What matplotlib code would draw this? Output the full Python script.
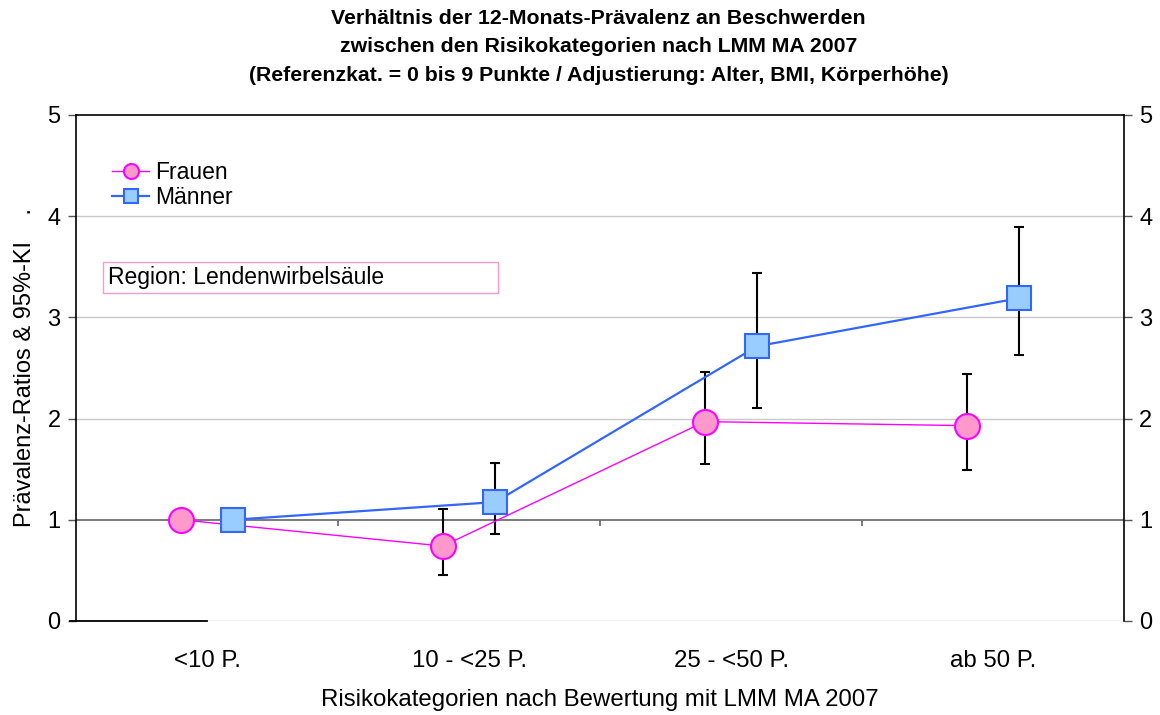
import numpy as np
import matplotlib
matplotlib.use('Agg')
import matplotlib.pyplot as plt
from matplotlib.patches import Rectangle

plt.rcParams['font.family'] = ['Liberation Sans', 'DejaVu Sans']

# data
categories = ['<10 P.', '10 - <25 P.', '25 - <50 P.', 'ab 50 P.']
frauen = np.array([1.00, 0.74, 1.97, 1.93])
frauen_lo = np.array([1.00, 0.455, 1.555, 1.49])
frauen_hi = np.array([1.00, 1.105, 2.46, 2.44])
maenner = np.array([1.00, 1.175, 2.715, 3.19])
maenner_lo = np.array([1.00, 0.862, 2.108, 2.625])
maenner_hi = np.array([1.00, 1.559, 3.436, 3.895])

title = ('Verhältnis der 12-Monats-Prävalenz an Beschwerden\n'
         'zwischen den Risikokategorien nach LMM MA 2007\n'
         '(Referenzkat. = 0 bis 9 Punkte / Adjustierung: Alter, BMI, Körperhöhe)')

x = np.arange(len(categories))
off = 0.1

fig = plt.figure(figsize=(11.6, 7.15), dpi=100)
ax = fig.add_axes([0.0655, 0.1315, 0.9035, 0.7077])

# gridlines
for yv in [0, 2, 3, 4]:
    ax.axhline(yv, color='#c8c8c8', lw=1, zorder=0)
ax.axhline(1, color='#707070', lw=1.3, zorder=1)
ax.vlines(x[:-1] + 0.5, 0.94, 1, color='#707070', lw=1.3, zorder=1)

# error bars
ax.errorbar(x - off, frauen, yerr=[frauen - frauen_lo, frauen_hi - frauen],
            fmt='none', ecolor='black', elinewidth=1.5, capsize=3.3, capthick=1.5, zorder=2)
ax.errorbar(x + off, maenner, yerr=[maenner - maenner_lo, maenner_hi - maenner],
            fmt='none', ecolor='black', elinewidth=1.5, capsize=3.3, capthick=1.5, zorder=2)

ax.plot(x - off, frauen, color='#ff00ff', lw=1, marker='o', markersize=18,
        markerfacecolor='#ff99cc', markeredgecolor='#ff00ff', markeredgewidth=1.5,
        label='Frauen', zorder=3)
ax.plot(x + off, maenner, color='#3366ff', lw=1.6, marker='s', markersize=17,
        markerfacecolor='#99ccff', markeredgecolor='#3366ff', markeredgewidth=1.5,
        label='Männer', zorder=3)

ax.set_xlim(-0.5, 3.5)
ax.set_ylim(0, 5)
ax.set_xticks(x)
ax.set_xticklabels(categories, fontsize=17.3)
ax.tick_params(axis='x', length=0, pad=21)
ax.set_yticks([0, 1, 2, 3, 4, 5])
ax.tick_params(axis='y', labelsize=17, length=6, width=1, color='#555555',
               left=True, right=True, labelleft=True, labelright=True, pad=5)

for s in ['left', 'right', 'top']:
    ax.spines[s].set_color('black')
    ax.spines[s].set_linewidth(1.2)
ax.spines['bottom'].set_visible(False)
ax.plot([-0.523, 0.0], [0, 0], color='black', lw=1.3, clip_on=False, zorder=4)

ax.set_ylabel('Prävalenz-Ratios & 95%-KI    .', fontsize=17, labelpad=8)
ax.set_xlabel('Risikokategorien nach Bewertung mit LMM MA 2007', fontsize=17.3, labelpad=12)
fig.suptitle(title, fontsize=15.3, fontweight='bold', x=0.516, y=0.988, linespacing=1.65)

ax.legend(loc='upper left', bbox_to_anchor=(0.015, 0.95), frameon=False, fontsize=16.5,
          handlelength=1.6, handletextpad=0.25, labelspacing=0.1, markerscale=0.6)

trans = ax.get_yaxis_transform()
ax.add_patch(Rectangle((0.0258, 3.24), 0.377, 0.307, transform=trans,
                       facecolor='white', edgecolor='#ff99cc', lw=1, zorder=2))
ax.text(0.0305, 3.39, 'Region: Lendenwirbelsäule', fontsize=16.5, va='center',
        transform=trans, zorder=3)

fig.savefig('out.png', dpi=100)
